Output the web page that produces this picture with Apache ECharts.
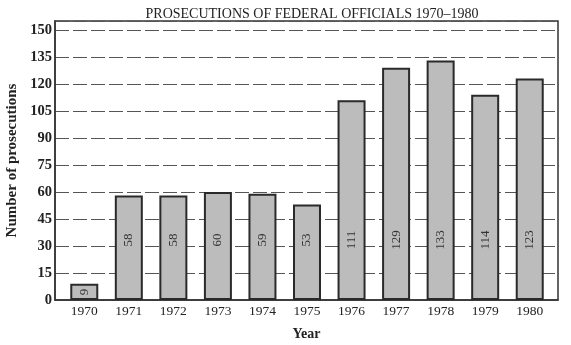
<!DOCTYPE html>
<html><head><meta charset="utf-8">
<script src="https://cdn.jsdelivr.net/npm/echarts@6/dist/echarts.min.js"></script>
<style>html,body{margin:0;padding:0;background:#fff}#c{width:571px;height:345px}</style>
</head><body><div id="c"></div>
<script>
const years = ['1970','1971','1972','1973','1974','1975','1976','1977','1978','1979','1980'];
const prosecutions = [9, 58, 58, 60, 59, 53, 111, 129, 133, 114, 123];
const yTicks = [0, 15, 30, 45, 60, 75, 90, 105, 120, 135, 150];

const serif = '"Liberation Serif", "DejaVu Serif", serif';
const chart = echarts.init(document.getElementById('c'));
chart.setOption({
  animation: false,
  backgroundColor: '#fff',
  title: {
    text: 'PROSECUTIONS OF FEDERAL OFFICIALS 1970\u20131980',
    left: 307, top: 2, textAlign: 'center',
    textStyle: { fontFamily: serif, fontSize: 14, fontWeight: 'normal', color: '#222' }
  },
  grid: [
    { left: 55, right: 13, top: 21, bottom: 45, outerBoundsMode: 'none', containLabel: false,
      show: true, borderColor: '#333', borderWidth: 1.5, backgroundColor: 'transparent' },
    { left: 62, right: 19, top: 21, bottom: 45, outerBoundsMode: 'none', containLabel: false }
  ],
  xAxis: [{
    gridIndex: 0, type: 'category', data: years,
    name: 'Year', nameLocation: 'middle', nameGap: 27,
    nameTextStyle: { fontFamily: serif, fontSize: 14, fontWeight: 'bold', color: '#222' },
    axisLine: { lineStyle: { color: '#333', width: 1.5 } },
    axisTick: { show: false },
    axisLabel: { show: false }
  }, {
    gridIndex: 1, type: 'category', data: years,
    axisLine: { show: false },
    axisTick: { show: false },
    axisLabel: { fontFamily: serif, fontSize: 13.5, color: '#222', margin: 4 }
  }],
  yAxis: [{
    gridIndex: 0, type: 'value', min: 0, max: 155, interval: 15,
    name: 'Number of prosecutions', nameLocation: 'middle', nameGap: 35, nameRotate: 90,
    nameTextStyle: { fontFamily: serif, fontSize: 15, fontWeight: 'bold', color: '#222' },
    axisLine: { show: true, lineStyle: { color: '#333', width: 1.5 } },
    axisTick: { show: false },
    axisLabel: { showMaxLabel: false, fontFamily: serif, fontSize: 14.5, fontWeight: 'bold', color: '#222', margin: 3,
      formatter: v => yTicks.includes(v) ? String(v) : '' },
    splitLine: { show: true, lineStyle: { color: '#555', type: [14, 4], width: 1 } }
  }, {
    gridIndex: 1, type: 'value', min: 0, max: 155, interval: 15,
    show: false, splitLine: { show: false }
  }],
  series: [{
    type: 'bar', xAxisIndex: 1, yAxisIndex: 1, barWidth: 28,
    data: prosecutions.map(v => v < 20
      ? { value: v, label: { position: 'inside', distance: 0 } }
      : { value: v }),
    itemStyle: { color: '#bcbcbc', borderColor: '#2a2a2a', borderWidth: 2 },
    label: {
      show: true, position: 'insideBottom', distance: 60, rotate: 90,
      align: 'center', verticalAlign: 'middle',
      fontFamily: serif, fontSize: 13, color: '#333'
    }
  }]
});
</script></body></html>
